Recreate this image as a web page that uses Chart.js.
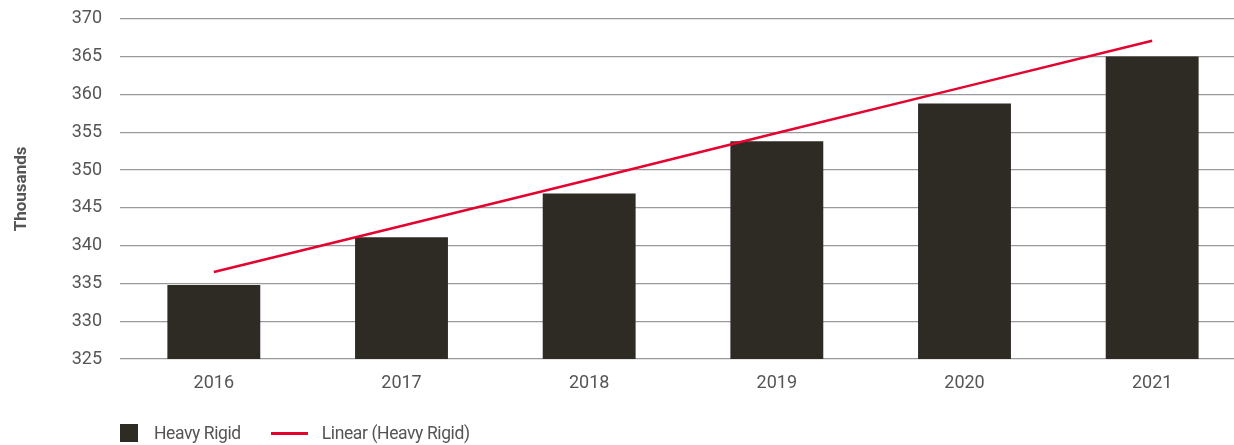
<!DOCTYPE html>
<html>
<head>
<meta charset="utf-8">
<script src="https://cdn.jsdelivr.net/npm/chart.js@4"></script>
<style>
  html, body { margin: 0; padding: 0; background: #fff; }
  #wrap { position: relative; width: 1234px; height: 445px; overflow: hidden; }
  #chart { display: block; margin-top: -10px; }
  #legend { position: absolute; left: 120px; top: 423px; display: flex; align-items: center;
    font-family: Roboto, "Liberation Sans", sans-serif; font-size: 17.5px; letter-spacing: -0.4px; color: #555; }
  .box { width: 18px; height: 18px; background: #2e2b25; margin-right: 16px; }
  .ln { width: 37px; height: 3px; background: #e4032e; margin: 0 14px 0 30px; }
</style>
</head>
<body>
<div id="wrap">
  <canvas id="chart" width="1246" height="455"></canvas>
  <div id="legend">
    <span class="box"></span><span>Heavy Rigid</span>
    <span class="ln"></span><span>Linear (Heavy Rigid)</span>
  </div>
</div>
<script>
// données
const years = ['2016', '2017', '2018', '2019', '2020', '2021'];
const heavyRigid = [334.8, 341.1, 346.9, 353.8, 358.8, 365.0];
const linearTrend = [336.5, 342.6, 348.7, 354.9, 361.0, 367.1];
const yMin = 325, yMax = 370, yStep = 5;

const ctx = document.getElementById('chart');
new Chart(ctx, {
  data: {
    labels: years,
    datasets: [
      {
        type: 'line',
        label: 'Linear (Heavy Rigid)',
        data: linearTrend,
        borderColor: '#e4032e',
        borderWidth: 2.5,
        pointRadius: 0,
        tension: 0,
        fill: false,
        order: 0
      },
      {
        type: 'bar',
        label: 'Heavy Rigid',
        data: heavyRigid,
        backgroundColor: '#2e2b25',
        categoryPercentage: 1,
        barPercentage: 0.495,
        order: 1
      }
    ]
  },
  options: {
    responsive: false,
    animation: false,
    layout: { padding: 0 },
    plugins: { legend: { display: false }, tooltip: { enabled: false } },
    scales: {
      x: {
        grid: { display: false },
        border: { display: false },
        ticks: { color: '#555', padding: 6, font: { family: 'Roboto', size: 18 } },
        afterFit: s => { s.height = 86; }
      },
      y: {
        min: yMin,
        max: yMax,
        grid: { color: '#9a9a9a', lineWidth: 1.2, drawTicks: false },
        border: { display: false },
        ticks: { stepSize: yStep, color: '#555', padding: 18, font: { family: 'Roboto', size: 18 } },
        title: {
          display: true,
          text: 'Thousands',
          color: '#555',
          padding: { top: 12, bottom: 0 },
          font: { family: 'Roboto', size: 17, weight: 'bold' }
        },
        afterFit: s => { s.width = 120; }
      }
    }
  }
});
</script>
</body>
</html>
